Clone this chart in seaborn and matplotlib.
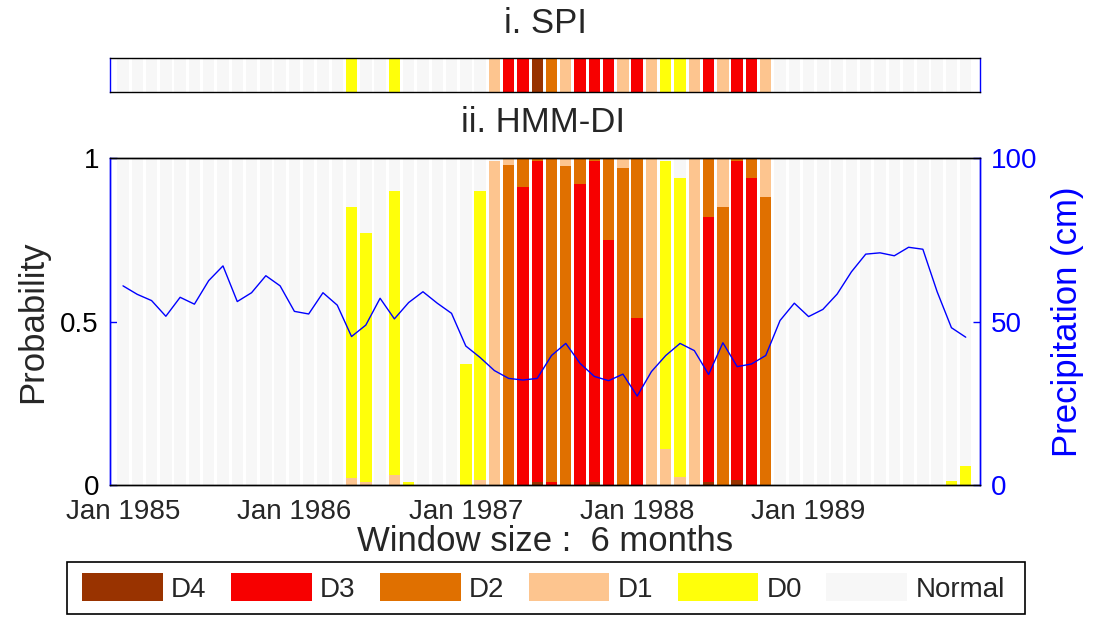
import numpy as np
import pandas as pd
import matplotlib
matplotlib.use("Agg")
import matplotlib.pyplot as plt
from matplotlib.patches import Patch, Rectangle
import seaborn as sns

# ---------------- data ----------------
years = [1985, 1986, 1987, 1988, 1989]
month_index = list(range(60))
tick_positions = [0, 12, 24, 36, 48]
tick_labels = ["Jan 1985", "Jan 1986", "Jan 1987", "Jan 1988", "Jan 1989"]

categories = ["D4", "D3", "D2", "D1", "D0", "Normal"]
cat_colors = {"D4": "#993300", "D3": "#f70000", "D2": "#e07000",
              "D1": "#fdc58f", "D0": "#ffff0a", "Normal": "#f7f7f7"}

# HMM-DI state probabilities (one value per month, Jan 1985 .. Dec 1989)
p_d4 = [0, 0, 0, 0, 0, 0, 0, 0, 0, 0, 0, 0,
        0, 0, 0, 0, 0, 0, 0, 0, 0, 0, 0, 0,
        0, 0, 0, 0, 0, 0.01, 0, 0, 0, 0.01, 0, 0,
        0, 0, 0, 0, 0, 0.01, 0, 0.015, 0, 0, 0, 0,
        0, 0, 0, 0, 0, 0, 0, 0, 0, 0, 0, 0]
p_d3 = [0, 0, 0, 0, 0, 0, 0, 0, 0, 0, 0, 0,
        0, 0, 0, 0, 0, 0, 0, 0, 0, 0, 0, 0,
        0, 0, 0, 0, 0.91, 0.98, 0.01, 0, 0.92, 0.98, 0.75, 0,
        0.51, 0, 0, 0, 0, 0.81, 0, 0.975, 0.94, 0, 0, 0,
        0, 0, 0, 0, 0, 0, 0, 0, 0, 0, 0, 0]
p_d2 = [0, 0, 0, 0, 0, 0, 0, 0, 0, 0, 0, 0,
        0, 0, 0, 0, 0, 0, 0, 0, 0, 0, 0, 0,
        0, 0, 0, 0.98, 0.09, 0.01, 0.99, 0.975, 0.08, 0.01, 0.25, 0.97,
        0.49, 0, 0, 0, 0, 0.18, 0.85, 0.01, 0.06, 0.88, 0, 0,
        0, 0, 0, 0, 0, 0, 0, 0, 0, 0, 0, 0]
p_d1 = [0, 0, 0, 0, 0, 0, 0, 0, 0, 0, 0, 0,
        0, 0, 0, 0, 0.02, 0.01, 0, 0.03, 0, 0, 0, 0,
        0, 0.015, 0.99, 0.02, 0, 0, 0, 0.025, 0, 0, 0, 0.03,
        0, 1.0, 0.11, 0.025, 1.0, 0, 0.15, 0, 0, 0.12, 0, 0,
        0, 0, 0, 0, 0, 0, 0, 0, 0, 0, 0, 0]
p_d0 = [0, 0, 0, 0, 0, 0, 0, 0, 0, 0, 0, 0,
        0, 0, 0, 0, 0.83, 0.76, 0, 0.87, 0.01, 0, 0, 0,
        0.37, 0.885, 0, 0, 0, 0, 0, 0, 0, 0, 0, 0,
        0, 0, 0.88, 0.915, 0, 0, 0, 0, 0, 0, 0, 0,
        0, 0, 0, 0, 0, 0, 0, 0, 0, 0, 0.012, 0.058]
p_normal = [1, 1, 1, 1, 1, 1, 1, 1, 1, 1, 1, 1,
            1, 1, 1, 1, 0.15, 0.23, 1, 0.10, 0.99, 1, 1, 1,
            0.63, 0.10, 0.01, 0, 0, 0, 0, 0, 0, 0, 0, 0,
            0, 0, 0.01, 0.06, 0, 0, 0, 0, 0, 0, 1, 1,
            1, 1, 1, 1, 1, 1, 1, 1, 1, 1, 0.988, 0.942]

# SPI class for each month
spi_class = ["Normal"] * 12 + \
    ["Normal", "Normal", "Normal", "Normal", "D0", "Normal", "Normal", "D0", "Normal", "Normal", "Normal", "Normal"] + \
    ["Normal", "Normal", "D1", "D3", "D3", "D4", "D2", "D1", "D3", "D3", "D3", "D1"] + \
    ["D3", "D1", "D0", "D0", "D1", "D3", "D1", "D3", "D3", "D1", "Normal", "Normal"] + \
    ["Normal"] * 12

# 6-month precipitation (cm)
precip = [60.9, 58.3, 56.4, 51.6, 57.4, 55.3, 62.5, 67.0, 56.1, 58.8, 64.0, 60.9,
          53.1, 52.3, 58.8, 55.0, 45.4, 48.9, 57.1, 50.8, 55.8, 59.1, 55.6, 52.5,
          42.5, 39.0, 35.0, 32.6, 32.1, 32.6, 39.6, 43.3, 37.2, 33.2, 31.9, 33.9,
          27.2, 34.7, 39.6, 43.3, 41.1, 33.8, 43.5, 36.2, 37.0, 39.6, 50.3, 55.6,
          51.5, 53.7, 58.4, 65.2, 70.6, 71.0, 70.1, 72.7, 72.1, 59.1, 48.1, 45.2]

# ---------------- tables ----------------
prob_series = {"D4": p_d4, "D3": p_d3, "D2": p_d2, "D1": p_d1, "D0": p_d0, "Normal": p_normal}
hmm_df = pd.concat([pd.DataFrame({"month": month_index, "category": c, "prob": prob_series[c]})
                    for c in categories], ignore_index=True)
spi_df = pd.DataFrame({"month": month_index, "category": spi_class, "w": 1.0})
prec_df = pd.DataFrame({"month": month_index, "precip": precip})

# ---------------- style ----------------
sns.set_theme(style="white")
plt.rcParams["font.family"] = ["Liberation Sans", "DejaVu Sans"]
plt.rcParams["axes.linewidth"] = 1.0

BLUE = "#0000ff"
stack_order = ["Normal", "D0", "D1", "D2", "D3", "D4"]  # last level ends at bottom of stack
palette = [cat_colors[c] for c in stack_order]

fig = plt.figure(figsize=(10.94, 6.17), dpi=100)
W, H = 1094, 617
x0, x1 = 110, 980
ax = fig.add_axes([x0 / W, 1 - 485 / H, (x1 - x0) / W, (485 - 158) / H])
ax_spi = fig.add_axes([x0 / W, 1 - 92 / H, (x1 - x0) / W, (92 - 58) / H])

xlim = (-0.91, 60.0)

# ---------------- SPI strip ----------------
sns.histplot(data=spi_df, x="month", weights="w", hue="category", hue_order=stack_order,
             palette=palette, multiple="stack", discrete=True, shrink=0.8, alpha=1,
             linewidth=0, legend=False, ax=ax_spi)
ax_spi.set_xlim(*xlim)
ax_spi.set_ylim(0, 1)
ax_spi.set_yticks([])
ax_spi.set_xticks(tick_positions)
ax_spi.set_xticklabels([])
ax_spi.set_xlabel("")
ax_spi.set_ylabel("")
ax_spi.tick_params(axis="x", direction="in", top=True, bottom=True, length=5, width=1, color="black")
for s in ["top", "bottom"]:
    ax_spi.spines[s].set_color("black")
for s in ["left", "right"]:
    ax_spi.spines[s].set_color(BLUE)

# ---------------- HMM-DI ----------------
sns.histplot(data=hmm_df, x="month", weights="prob", hue="category", hue_order=stack_order,
             palette=palette, multiple="stack", discrete=True, shrink=0.8, alpha=1,
             linewidth=0, legend=False, ax=ax)
ax.set_xlim(*xlim)
ax.set_ylim(0, 1)
ax.set_yticks([0, 0.5, 1])
ax.set_yticklabels(["0", "0.5", "1"])
ax.set_xticks(tick_positions)
ax.set_xticklabels(tick_labels)
ax.tick_params(axis="x", direction="in", top=True, bottom=True, length=5, width=1,
               color="black", labelsize=20, pad=10)
ax.tick_params(axis="y", direction="in", left=True, right=False, length=5, width=1,
               color=BLUE, labelcolor="black", labelsize=20, pad=8)
ax.set_ylabel("Probability", fontsize=25, labelpad=8)
ax.set_xlabel("Window size :  6 months", fontsize=25, labelpad=0)

ax2 = ax.twinx()
sns.lineplot(data=prec_df, x="month", y="precip", ax=ax2, color=BLUE, linewidth=1)
ax2.set_ylim(0, 100)
ax2.set_xlim(*xlim)
ax2.set_yticks([0, 50, 100])
ax2.tick_params(axis="y", direction="in", right=True, length=5, width=1,
                color=BLUE, labelcolor=BLUE, labelsize=20, pad=8)
ax2.set_ylabel("Precipitation (cm)", fontsize=25, color=BLUE, labelpad=10)
for a in (ax, ax2):
    for s in ["top", "bottom"]:
        a.spines[s].set_color("black")
    for s in ["left", "right"]:
        a.spines[s].set_color(BLUE)

# titles
fig.text(545 / W, 1 - 33 / H, "i. SPI", ha="center", va="baseline", fontsize=25)
fig.text(543 / W, 1 - 131.5 / H, "ii. HMM-DI", ha="center", va="baseline", fontsize=25)

# legend (entries) with a separately drawn frame
handles = [Patch(facecolor=cat_colors[c], edgecolor="none", label=c) for c in categories]
leg = fig.legend(handles=handles, loc="center", bbox_to_anchor=(543.5 / W, 1 - 588 / H),
                 ncol=6, frameon=False, fontsize=20,
                 handlelength=2.9, handleheight=1.15, handletextpad=0.3,
                 columnspacing=0.88, borderpad=0.0, borderaxespad=0)
fig.patches.append(Rectangle((67 / W, 1 - 614 / H), (1025 - 67) / W, (614 - 562) / H,
                             transform=fig.transFigure, fill=False,
                             edgecolor="black", linewidth=1.2))

fig.savefig("out.png", dpi=100)
